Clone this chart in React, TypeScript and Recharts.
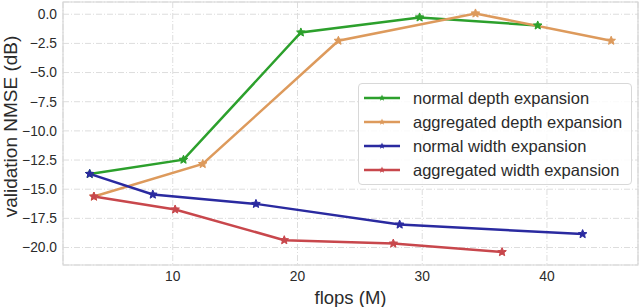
import { LineChart, Line, XAxis, YAxis, CartesianGrid, ReferenceArea } from "recharts";

// flops (M) and validation NMSE (dB)
const normalDepthFlops = [3.34, 10.86, 20.27, 29.79, 39.26];
const normalDepthNmse = [-13.69, -12.47, -1.56, -0.27, -0.96];

const aggDepthFlops = [3.68, 12.4, 23.28, 34.27, 45.15];
const aggDepthNmse = [-15.63, -12.84, -2.27, 0.07, -2.27];

const normalWidthFlops = [3.34, 8.4, 16.67, 28.19, 42.86];
const normalWidthNmse = [-13.69, -15.46, -16.26, -18.03, -18.85];

const aggWidthFlops = [3.68, 10.19, 18.94, 27.68, 36.4];
const aggWidthNmse = [-15.63, -16.74, -19.37, -19.66, -20.39];

const xTicks = [10, 20, 30, 40];
const yTicks = [-20, -17.5, -15, -12.5, -10, -7.5, -5, -2.5, 0];

const toPoints = (xs: number[], ys: number[]) => xs.map((x, i) => ({ x, y: ys[i] }));

const series = [
  { name: "normal depth expansion", color: "#2ca02c", data: toPoints(normalDepthFlops, normalDepthNmse) },
  { name: "aggregated depth expansion", color: "#dd9a5c", data: toPoints(aggDepthFlops, aggDepthNmse) },
  { name: "normal width expansion", color: "#2a2aa0", data: toPoints(normalWidthFlops, normalWidthNmse) },
  { name: "aggregated width expansion", color: "#c8474c", data: toPoints(aggWidthFlops, aggWidthNmse) },
];

const font = "'Liberation Sans', Arial, sans-serif";
const textColor = "#2b2b2b";

function starPath(cx: number, cy: number, r: number) {
  const pts: string[] = [];
  for (let i = 0; i < 10; i++) {
    const rad = i % 2 === 0 ? r : r * 0.45;
    const a = -Math.PI / 2 + (i * Math.PI) / 5;
    pts.push(`${(cx + rad * Math.cos(a)).toFixed(2)},${(cy + rad * Math.sin(a)).toFixed(2)}`);
  }
  return "M" + pts.join("L") + "Z";
}

const makeStar = (color: string) => (props: any) => {
  const { cx, cy, index } = props;
  if (cx == null || cy == null) return <g key={index} />;
  return <path key={index} d={starPath(cx, cy, 4.5)} fill={color} stroke={color} strokeWidth={1} />;
};

function LegendBox() {
  return (
    <div
      style={{
        position: "absolute",
        left: 358,
        top: 83,
        width: 274,
        boxSizing: "border-box",
        border: "1px solid #d8d8d8",
        borderRadius: 4,
        background: "rgba(255,255,255,0.85)",
        padding: "2px 6px 2px 5px",
        fontFamily: font,
        fontSize: 16.5,
        color: textColor,
      }}
    >
      {series.map((s) => (
        <div key={s.name} style={{ display: "flex", alignItems: "center", height: 24 }}>
          <svg width={36} height={12} style={{ marginRight: 13, flexShrink: 0 }}>
            <line x1={0} y1={6} x2={36} y2={6} stroke={s.color} strokeWidth={2.5} />
            <path d={starPath(18, 6, 3.5)} fill={s.color} />
          </svg>
          <span style={{ whiteSpace: "nowrap" }}>{s.name}</span>
        </div>
      ))}
    </div>
  );
}

export default function App() {
  return (
    <div style={{ position: "absolute", left: 0, top: 0, width: 640, height: 307, background: "#fff" }}>
      <LineChart width={640} height={307} margin={{ top: 2, right: 2, left: 0, bottom: 0 }}>
        <CartesianGrid stroke="#dddddd" strokeDasharray="6 2 1 2" />
        <ReferenceArea x1={1.2} x2={47.3} y1={-21.5} y2={1.05} fill="none" stroke="#d6d6d6" strokeWidth={1.2} ifOverflow="visible" />
        <XAxis
          type="number"
          dataKey="x"
          domain={[1.2, 47.3]}
          ticks={xTicks}
          allowDataOverflow
          height={42}
          axisLine={false}
          tickLine={false}
          tickSize={0}
          tickMargin={6}
          tick={{ fill: textColor, fontSize: 13.8, fontFamily: font }}
          label={{ value: "flops (M)", position: "insideBottom", offset: 3, fill: textColor, fontSize: 18.5, fontFamily: font }}
        />
        <YAxis
          type="number"
          domain={[-21.5, 1.05]}
          ticks={yTicks}
          allowDataOverflow
          width={63}
          axisLine={false}
          tickLine={false}
          tickSize={0}
          tickMargin={6}
          tickFormatter={(v: number) => v.toFixed(1).replace("-", "\u2212")}
          tick={{ fill: textColor, fontSize: 13.8, fontFamily: font }}
          label={{ value: "validation NMSE (dB)", angle: -90, position: "center", dx: -21, dy: -7, fill: textColor, fontSize: 19, fontFamily: font }}
        />
        {series.map((s) => (
          <Line
            key={s.name}
            data={s.data}
            dataKey="y"
            name={s.name}
            stroke={s.color}
            strokeWidth={2.5}
            dot={makeStar(s.color)}
            activeDot={false}
            isAnimationActive={false}
          />
        ))}
      </LineChart>
      <LegendBox />
    </div>
  );
}
